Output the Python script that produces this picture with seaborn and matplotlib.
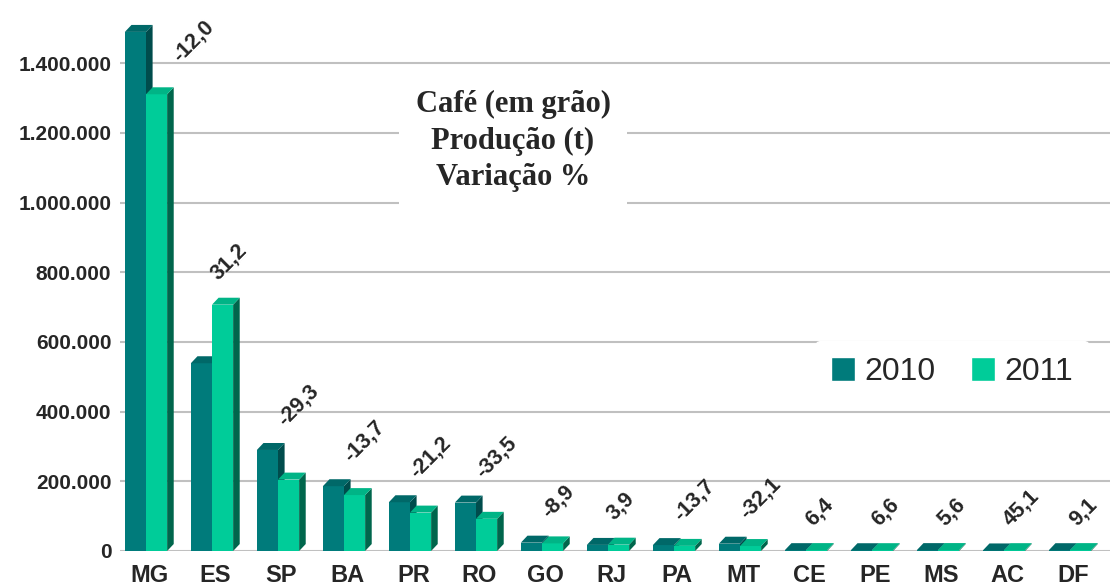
import pandas as pd
import matplotlib
matplotlib.use("Agg")
import matplotlib.pyplot as plt
from matplotlib.patches import Polygon, Patch
import seaborn as sns

# Café (em grão) - produção (t) por UF, 2010 x 2011
estados = ["MG", "ES", "SP", "BA", "PR", "RO", "GO", "RJ", "PA", "MT",
           "CE", "PE", "MS", "AC", "DF"]
prod_2010 = [1490000, 539000, 290000, 186000, 140000, 139000, 24000, 17500,
             17000, 21000, 2500, 2300, 2600, 1700, 2400]
prod_2011 = [1311000, 707000, 205000, 160500, 110300, 92400, 21900, 18200,
             14700, 14300, 2660, 2450, 2750, 2470, 2620]
variacao = [-12.0, 31.2, -29.3, -13.7, -21.2, -33.5, -8.9, 3.9, -13.7, -32.1,
            6.4, 6.6, 5.6, 45.1, 9.1]
anos = ["2010", "2011"]
yticks = [0, 200000, 400000, 600000, 800000, 1000000, 1200000, 1400000]

df = pd.DataFrame({
    "estado": estados * 2,
    "producao": prod_2010 + prod_2011,
    "ano": [anos[0]] * len(estados) + [anos[1]] * len(estados),
})

front = ["#007B7B", "#00CC99"]
top = ["#006868", "#00B486"]
side = ["#004C4C", "#00664C"]

sns.set_style("white")
plt.rcParams["font.family"] = ["Liberation Sans", "DejaVu Sans"]

fig = plt.figure(figsize=(11.11, 5.86), dpi=100)
ax = fig.add_axes([119.6 / 1111, 35 / 586, 990 / 1111, 540 / 586])

sns.barplot(data=df, x="estado", y="producao", hue="ano", palette=front,
            width=0.64, saturation=1, linewidth=0, ax=ax)
ax.get_legend().remove()

ax.set_xlim(-0.4, 14.6)
ax.set_ylim(0, 1550000)

# fake 3D: top and side faces for each bar
dx, dy = 0.1, 20000
for k, cont in enumerate(ax.containers):
    for p in cont.patches:
        p.set_zorder(3 + 2 * k)
        x0, w, h = p.get_x(), p.get_width(), p.get_height()
        x1 = x0 + w
        ax.add_patch(Polygon([(x1, 0), (x1 + dx, dy), (x1 + dx, h + dy), (x1, h)],
                             closed=True, facecolor=side[k], edgecolor="none",
                             zorder=3.5 + 2 * k))
        ax.add_patch(Polygon([(x0, h), (x0 + dx, h + dy), (x1 + dx, h + dy), (x1, h)],
                             closed=True, facecolor=top[k], edgecolor="none",
                             zorder=3.5 + 2 * k))

# variation labels, above the tallest bar (beside it if it reaches the top)
for i, v in enumerate(variacao):
    alto = max(prod_2010[i], prod_2011[i])
    if alto + 60000 > 1400000:
        xl, yl = i + 0.56, prod_2011[i] + 80000
    else:
        xl, yl = i + 0.15, alto + 58000
    ax.text(xl, yl, f"{v:.1f}".replace(".", ","),
            rotation=45, rotation_mode="anchor", ha="left", va="bottom",
            fontsize=15.5, fontweight="bold", zorder=10)

ax.set_yticks(yticks)
ax.set_yticklabels([f"{v:,.0f}".replace(",", ".") for v in yticks],
                   fontsize=15, fontweight="bold")
ax.set_xticks([i + 0.05 for i in range(len(estados))])
ax.set_xticklabels(estados, fontsize=17, fontweight="bold")
ax.tick_params(axis="both", length=0, pad=6)
ax.tick_params(axis="x", pad=9)
ax.set_xlabel("")
ax.set_ylabel("")
ax.yaxis.grid(True, color="#C0C0C0", linewidth=1.5, zorder=0)
ax.set_axisbelow(True)
sns.despine(ax=ax, left=True, bottom=True)

fig.text(513 / 1111, 1 - 141 / 586, "Café (em grão)\nProdução (t)\nVariação %",
         ha="center", va="center", fontsize=22, fontweight="bold",
         family="Liberation Serif", linespacing=1.35,
         bbox=dict(facecolor="white", edgecolor="none", pad=12), zorder=20)

handles = [Patch(facecolor=front[k], label=anos[k]) for k in range(2)]
leg = ax.legend(handles=handles, ncol=2, loc="center",
                bbox_to_anchor=(952 / 1111, 1 - 372 / 586),
                bbox_transform=fig.transFigure, fontsize=23, frameon=True,
                handlelength=0.75, handleheight=0.75, handletextpad=0.3,
                columnspacing=1.1, borderpad=0.5)
leg.get_frame().set_facecolor("white")
leg.get_frame().set_edgecolor("white")
leg.get_frame().set_alpha(1)
leg.set_zorder(20)

fig.savefig("out.png", dpi=100)
